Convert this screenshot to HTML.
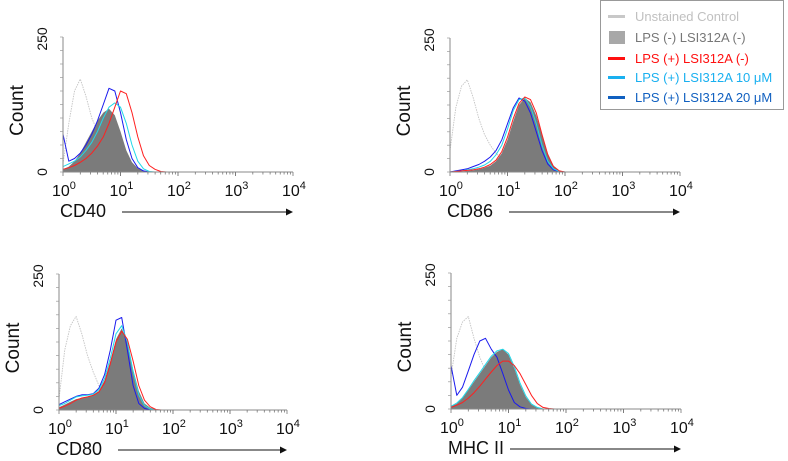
<!DOCTYPE html>
<html><head><meta charset="utf-8">
<style>
body{margin:0;background:#fff;width:788px;height:461px;overflow:hidden;font-family:"Liberation Sans",sans-serif}
svg{position:absolute;left:0;top:0}
</style></head>
<body>
<svg id="chart" width="788" height="461" viewBox="0 0 788 461" xmlns="http://www.w3.org/2000/svg">
<g id="legend">
<rect x="600.5" y="0.5" width="183" height="109" fill="#fff" stroke="#999"/>
<g><rect x="608" y="15" width="17" height="3" fill="#c8c8c8"/><text x="635" y="21" font-size="13" fill="#c0c0c0">Unstained Control</text></g>
<g><rect x="609" y="31" width="16" height="13" fill="#a8a8a8"/><text x="635" y="42" font-size="13" fill="#777">LPS (-) LSI312A (-)</text></g>
<g><rect x="608" y="57" width="17" height="3" fill="#ff1010"/><text x="635" y="63" font-size="13" fill="#ff1010">LPS (+) LSI312A (-)</text></g>
<g><rect x="608" y="76" width="17" height="3" fill="#1ab0f0"/><text x="635" y="82" font-size="13" fill="#1ab0f0">LPS (+) LSI312A 10 μM</text></g>
<g><rect x="608" y="96" width="17" height="3" fill="#1060c0"/><text x="635" y="102" font-size="13" fill="#1060c0">LPS (+) LSI312A 20 μM</text></g>
</g>
</svg>
<script>
// log10 positions 0.0..2.0 step 0.1 (beyond 2.0 count=0)
const logBins=[0,0.1,0.2,0.3,0.4,0.5,0.6,0.7,0.8,0.9,1.0,1.1,1.2,1.3,1.4,1.5,1.6,1.7,1.8,1.9,2.0];
const panelNames=["CD40","CD86","CD80","MHC II"];
const yTicks=["0","250"];
const xTickLabels=["0","1","2","3","4"];
const cd40Ctrl=[15,90,150,172,140,100,75,55,45,35,25,15,8,4,1,0,0,0,0,0,0];
const cd40Fill=[5,10,20,35,55,75,95,110,117,105,75,40,18,7,2,0,0,0,0,0,0];
const cd40Blue=[70,20,25,35,50,70,95,125,155,150,110,60,25,8,2,0,0,0,0,0,0];
const cd40Cyan=[10,15,20,28,40,55,75,100,120,128,120,90,50,20,6,1,0,0,0,0,0];
const cd40Red=[5,8,12,18,25,35,48,65,90,120,150,145,110,65,30,12,5,1,0,0,0];
const cd86Ctrl=[40,120,160,172,140,100,70,50,35,25,18,12,7,3,1,0,0,0,0,0,0];
const cd86Fill=[0,0,1,2,3,5,8,12,20,35,60,95,125,138,130,105,70,35,12,3,0];
const cd86Blue=[0,2,4,6,10,14,20,28,40,60,90,120,138,132,110,75,40,15,4,1,0];
const cd86Cyan=[0,1,2,4,6,9,13,20,32,50,80,115,135,138,122,90,50,20,6,1,0];
const cd86Red=[0,1,2,3,4,6,9,14,22,38,65,100,128,140,135,110,70,32,10,2,0];
const cd80Ctrl=[20,110,155,172,140,100,70,45,30,20,14,9,5,2,0,0,0,0,0,0,0];
const cd80Fill=[5,10,15,20,22,24,28,35,55,90,130,150,125,75,35,12,4,1,0,0,0];
const cd80Blue=[10,15,20,25,28,28,30,40,65,110,165,170,110,45,12,3,0,0,0,0,0];
const cd80Cyan=[8,12,18,24,26,27,29,37,58,95,140,155,125,70,28,8,2,0,0,0,0];
const cd80Red=[3,7,12,18,22,24,27,33,50,85,125,145,130,90,45,18,6,1,0,0,0];
const mhcCtrl=[60,130,160,170,130,95,70,50,35,25,18,12,7,3,1,0,0,0,0,0,0];
const mhcFill=[5,10,20,35,50,65,80,95,105,110,100,75,45,22,8,2,0,0,0,0,0];
const mhcBlue=[80,25,40,70,100,125,130,110,95,65,35,12,4,1,0,0,0,0,0,0,0];
const mhcCyan=[5,11,21,36,52,67,82,97,107,110,102,78,48,24,9,3,0,0,0,0,0];
const mhcRed=[3,7,12,20,30,42,55,68,80,88,88,80,65,45,25,10,3,1,0,0,0];

const panelData=[
 [cd40Ctrl,cd40Fill,cd40Blue,cd40Cyan,cd40Red],
 [cd86Ctrl,cd86Fill,cd86Blue,cd86Cyan,cd86Red],
 [cd80Ctrl,cd80Fill,cd80Blue,cd80Cyan,cd80Red],
 [mhcCtrl,mhcFill,mhcBlue,mhcCyan,mhcRed]];
const geo=[{x0:63,x1:293,y0:172,yt:37},{x0:450,x1:680,y0:172,yt:38},{x0:59,x1:287,y0:410,yt:274},{x0:451,x1:681,y0:409,yt:273}];
const NS="http://www.w3.org/2000/svg";
const svg=document.getElementById('chart');
function mk(t,a,p){const e=document.createElementNS(NS,t);for(const k in a)e.setAttribute(k,a[k]);(p||svg).appendChild(e);return e;}
const seriesStyle=[
 {name:'unstained-control',stroke:'#c4c4c4',w:0.9,dash:'1.5,1'},
 {name:'lps-neg-fill',fill:'#7b7b7b'},
 {name:'lps-pos-20um',stroke:'#1a1aee',w:1},
 {name:'lps-pos-10um',stroke:'#20d8e8',w:1},
 {name:'lps-pos-ctrl',stroke:'#ff2020',w:1}];
panelData.forEach((series,pi)=>{
 const g0=geo[pi];
 const dec=(g0.x1-g0.x0)/4;
 const xs=v=>g0.x0+v*dec;
 const ys=c=>g0.y0-(c/250)*(g0.y0-g0.yt);
 const g=mk('g',{});
 
 
 series.forEach((arr,si)=>{
  const st=seriesStyle[si];
  let pts=logBins.map((l,i)=>xs(l).toFixed(1)+','+ys(arr[i]).toFixed(1));
  pts.push(xs(2.2).toFixed(1)+','+ys(0).toFixed(1));
  let e;
  if(st.fill){
   e=mk('polygon',{points:xs(0)+','+ys(0)+' '+pts.join(' '),fill:st.fill},g);
  } else {
   e=mk('polyline',{points:pts.join(' '),fill:'none',stroke:st.stroke,'stroke-width':st.w,'stroke-linejoin':'round'},g);
   if(st.dash)e.setAttribute('stroke-dasharray',st.dash);
  }
  
  
 });
 const ya=mk('line',{x1:g0.x0,y1:g0.yt,x2:g0.x0,y2:g0.y0,stroke:'#888','stroke-width':1},g);
 
 
 for(let k=0;k<=10;k++){mk('line',{x1:g0.x0-3,x2:g0.x0,y1:ys(k*25),y2:ys(k*25),stroke:'#999','stroke-width':0.7},g);}
 const xa=mk('line',{x1:g0.x0,y1:g0.y0,x2:g0.x1,y2:g0.y0,stroke:'#888','stroke-width':1},g);
 
 
 for(let d=0;d<4;d++)for(let m=1;m<=10;m++){const x=xs(d+Math.log10(m));mk('line',{x1:x,x2:x,y1:g0.y0,y2:g0.y0+(m==1||m==10?4:2.5),stroke:'#777','stroke-width':0.8},g);}
 xTickLabels.forEach((t,i)=>{
  const tx=mk('text',{x:xs(i)-11,y:g0.y0+24,'font-size':16,fill:'#111'},g);
  tx.innerHTML='10<tspan dy="-7" font-size="11">'+t+'</tspan>';
  
  
 });
 yTicks.forEach((t,i)=>{
  const yy=i==0?g0.y0:g0.yt+2;
  const tx=mk('text',{x:0,y:0,'font-size':14,fill:'#111','text-anchor':'middle',transform:'translate('+(g0.x0-16)+','+yy+') rotate(-90)'},g);
  tx.textContent=t;
  
  
 });
 const yl=mk('text',{x:0,y:0,'font-size':19,fill:'#111','text-anchor':'middle',transform:'translate('+(g0.x0-40)+','+((g0.y0+g0.yt)/2+6)+') rotate(-90)'},g);
 yl.textContent='Count';
 
 
 const xl=mk('text',{x:g0.x0-3,y:g0.y0+45,'font-size':18,fill:'#111'},g);
 xl.textContent=panelNames[pi];
 
 
 const ay=g0.y0+40;
 const ar=mk('line',{x1:g0.x0+59,y1:ay,x2:g0.x1-6,y2:ay,stroke:'#111','stroke-width':1},g);
 
 
 mk('polygon',{points:(g0.x1-7)+','+(ay-3.5)+' '+(g0.x1)+','+ay+' '+(g0.x1-7)+','+(ay+3.5),fill:'#111'},g);
});
svg.appendChild(document.getElementById('legend'));
</script>
</body></html>
